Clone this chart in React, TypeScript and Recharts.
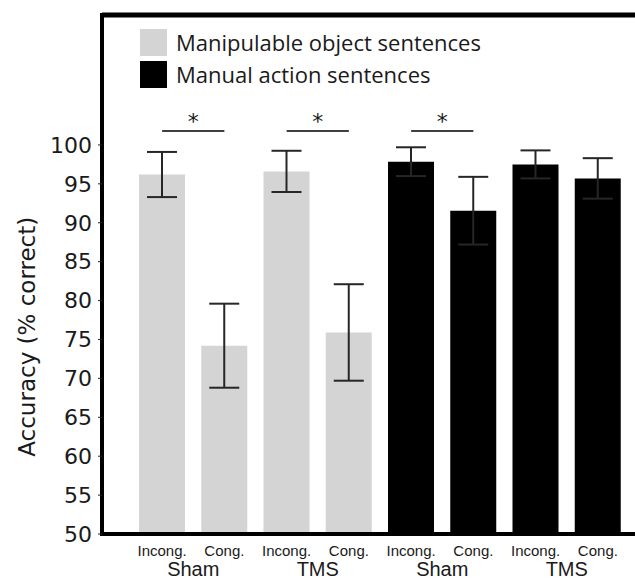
import { BarChart, Bar, XAxis, YAxis, Cell, ErrorBar, ReferenceLine, Legend } from 'recharts'

// per bar, left to right
const conditions = ['Incong.', 'Cong.', 'Incong.', 'Cong.', 'Incong.', 'Cong.', 'Incong.', 'Cong.']
const sessions = ['Sham', 'Sham', 'TMS', 'TMS', 'Sham', 'Sham', 'TMS', 'TMS']
const sentenceTypes = ['object', 'object', 'object', 'object', 'action', 'action', 'action', 'action']
const accuracy = [96.2, 74.2, 96.6, 75.9, 97.85, 91.55, 97.5, 95.7]
const sem = [2.9, 5.4, 2.65, 6.2, 1.85, 4.35, 1.8, 2.6]

const yTicks = [50, 55, 60, 65, 70, 75, 80, 85, 90, 95, 100]
const yMax = 116.7
const sigLevel = 101.8
const significantPairs = [[0, 1], [2, 3], [4, 5]]

const legendLabels = ['Manipulable object sentences', 'Manual action sentences']
const typeColors: Record<string, string> = { object: '#d4d4d4', action: '#000000' }

const data = accuracy.map((v, i) => ({
  id: `c${i}`,
  groupId: `${sentenceTypes[i]}-${sessions[i]}`,
  value: v,
  err: sem[i],
  type: sentenceTypes[i],
}))

const groupLabel = (id: string) => id.split('-')[1]

const textColor = '#1a1a1a'
const xPadding = { left: 29, right: 6 }

function LegendBox() {
  return (
    <div style={{ fontFamily: 'Open Sans', fontSize: 22, color: textColor }}>
      {legendLabels.map((label, i) => (
        <div key={label} style={{ display: 'flex', alignItems: 'center', marginBottom: 5, lineHeight: '27px' }}>
          <span
            style={{
              display: 'inline-block',
              width: 27,
              height: 27,
              background: i === 0 ? typeColors.object : typeColors.action,
              marginRight: 9,
            }}
          />
          {label}
        </div>
      ))}
    </div>
  )
}

function YLabel(props: any) {
  const { viewBox } = props
  const x = viewBox.x + 27
  const y = viewBox.y + viewBox.height * 0.62
  return (
    <text
      x={x}
      y={y}
      transform={`rotate(-90, ${x}, ${y})`}
      textAnchor="middle"
      dominantBaseline="central"
      fontFamily="DejaVu Sans"
      fontSize={23}
      fill={textColor}
    >
      Accuracy (% correct)
    </text>
  )
}

export default function App() {
  return (
    <div style={{ position: 'absolute', left: 0, top: 0 }}>
      <BarChart width={635} height={585} data={data} margin={{ top: 15, right: 0, left: 0, bottom: 0 }}>
        <XAxis
          dataKey="id"
          tickFormatter={(_v: string, i: number) => conditions[i]}
          interval={0}
          padding={xPadding}
          height={28}
          tickSize={0}
          tickMargin={11}
          tickLine={false}
          axisLine={{ stroke: '#000', strokeWidth: 4, strokeLinecap: 'square' }}
          tick={{ fontSize: 15, fill: textColor, fontFamily: 'Liberation Sans' }}
        />
        <XAxis
          xAxisId="group"
          dataKey="groupId"
          allowDuplicatedCategory={false}
          tickFormatter={groupLabel}
          interval={0}
          padding={xPadding}
          height={23}
          tickSize={0}
          tickMargin={0}
          tickLine={false}
          axisLine={false}
          tick={{ fontSize: 20, fill: textColor, fontFamily: 'Liberation Sans' }}
        />
        <YAxis
          type="number"
          domain={[50, yMax]}
          ticks={yTicks}
          width={102}
          tickSize={4}
          tickMargin={6}
          tickLine={{ stroke: '#222' }}
          axisLine={{ stroke: '#000', strokeWidth: 4, strokeLinecap: 'square' }}
          tick={{ fontSize: 22, fill: textColor, fontFamily: 'DejaVu Sans' }}
          label={<YLabel />}
        />
        <ReferenceLine y={yMax} stroke="#000" strokeWidth={5} />
        {significantPairs.map(([a, b]) => (
          <ReferenceLine
            key={a}
            segment={[{ x: data[a].id, y: sigLevel }, { x: data[b].id, y: sigLevel }]}
            stroke="#000"
            strokeWidth={1.5}
            label={{ value: '*', position: 'top', offset: 2, fontSize: 22, fill: textColor, fontFamily: 'DejaVu Sans' }}
          />
        ))}
        <Legend
          layout="horizontal"
          verticalAlign="middle"
          align="center"
          content={<LegendBox />}
          wrapperStyle={{ left: 140, top: 29, width: 'auto' }}
        />
        <Bar dataKey="value" barSize={46} isAnimationActive={false}>
          {data.map(d => (
            <Cell key={d.id} fill={typeColors[d.type]} />
          ))}
          <ErrorBar dataKey="err" width={15} stroke="#262626" strokeWidth={2} direction="y" />
        </Bar>
      </BarChart>
    </div>
  )
}
